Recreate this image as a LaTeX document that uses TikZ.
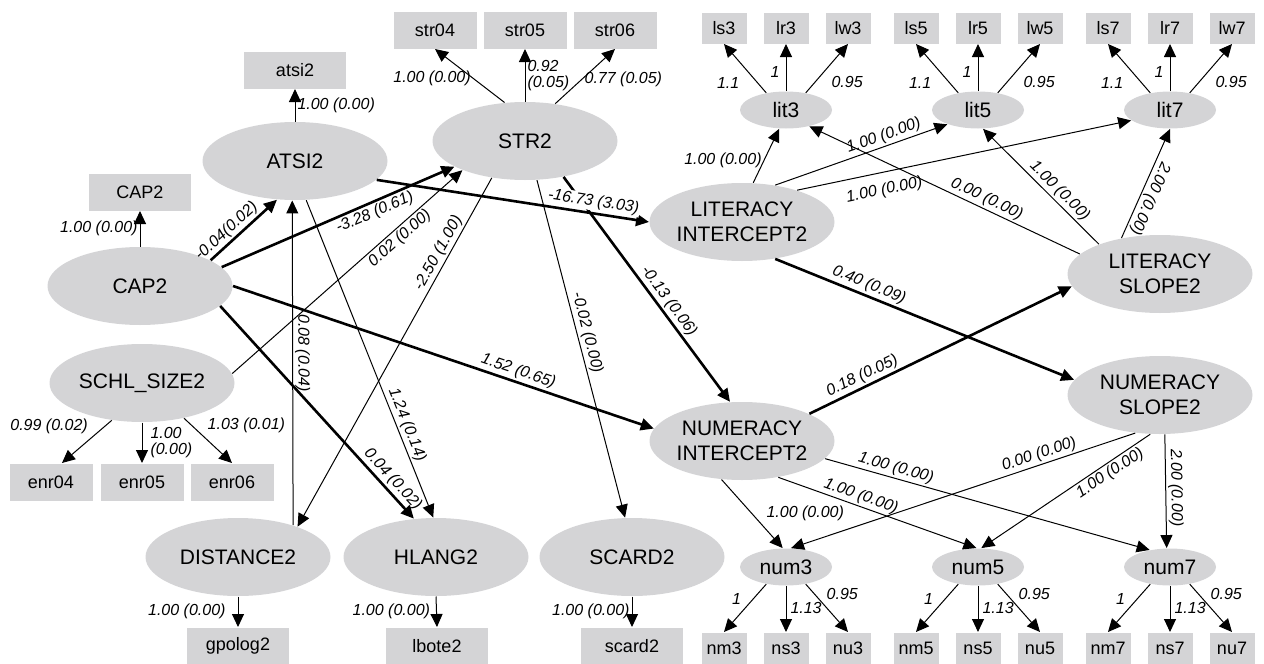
\documentclass[tikz,border=0pt]{standalone}
\usepackage{fontspec}
\setmainfont{Liberation Sans}
\usetikzlibrary{shapes.geometric, arrows.meta}
\definecolor{boxgray}{RGB}{212,212,214}
\tikzstyle{arr}   = [arrows={-Triangle[length=13pt, width=12pt]}]
\tikzstyle{heavy} = [line width=2.6pt]
\tikzstyle{box}   = [rectangle, fill=boxgray, minimum width=102pt, minimum height=37pt, inner sep=0pt, font=\fontsize{18}{20}\selectfont]
\tikzstyle{sbox}  = [box, minimum width=83pt]
\tikzstyle{tbox}  = [box, minimum width=45pt, minimum height=31pt]
\tikzstyle{o}     = [ellipse, fill=boxgray, minimum width=185pt, minimum height=78pt, inner sep=0pt, align=center, font=\fontsize{21}{25}\selectfont]
\tikzstyle{so}    = [o, minimum width=92pt, minimum height=37pt]
\tikzstyle{lbl}   = [font=\itshape\fontsize{16}{16}\selectfont, inner sep=2pt]

\begin{document}
\begin{tikzpicture}[x=1pt, y=-1pt, line width=1pt]
\useasboundingbox (0,0) rectangle (1264,664);

% observed variables
\node [box]  (atsi2)   at (295,70)  {atsi2};
\node [box]  (cap2)    at (140,192) {CAP2};
\node [sbox] (str04)   at (435,30)  {str04};
\node [sbox] (str05)   at (525,30)  {str05};
\node [sbox] (str06)   at (615,30)  {str06};
\node [sbox] (enr04)   at (51,482)  {enr04};
\node [sbox] (enr05)   at (142,482) {enr05};
\node [sbox] (enr06)   at (232,482) {enr06};
\node [box]  (gpolog2) at (238,646) {gpolog2};
\node [box]  (lbote2)  at (437,646) {lbote2};
\node [box]  (scard2)  at (632,646) {scard2};

\node [tbox] (ls3) at (724,28)  {ls3};
\node [tbox] (lr3) at (786,28)  {lr3};
\node [tbox] (lw3) at (848,28)  {lw3};
\node [tbox] (ls5) at (916,28)  {ls5};
\node [tbox] (lr5) at (978,28)  {lr5};
\node [tbox] (lw5) at (1040,28) {lw5};
\node [tbox] (ls7) at (1108,28) {ls7};
\node [tbox] (lr7) at (1170,28) {lr7};
\node [tbox] (lw7) at (1232,28) {lw7};

\node [tbox] (nm3) at (724,648)  {nm3};
\node [tbox] (ns3) at (786,648)  {ns3};
\node [tbox] (nu3) at (848,648)  {nu3};
\node [tbox] (nm5) at (916,648)  {nm5};
\node [tbox] (ns5) at (978,648)  {ns5};
\node [tbox] (nu5) at (1040,648) {nu5};
\node [tbox] (nm7) at (1108,648) {nm7};
\node [tbox] (ns7) at (1170,648) {ns7};
\node [tbox] (nu7) at (1232,648) {nu7};

% latent variables
\node [o] (ATSI)  at (295,161) {ATSI2};
\node [o] (CAP)   at (140,286) {CAP2};
\node [o] (SCHL)  at (142,383) {SCHL\_SIZE2};
\node [o] (DIST)  at (238,557) {DISTANCE2};
\node [o] (HLANG) at (436,557) {HLANG2};
\node [o] (SCARD) at (632,557) {SCARD2};
\node [o] (STR)   at (525,141) {STR2};
\node [o] (LI)    at (742,222) {LITERACY\\INTERCEPT2};
\node [o] (NI)    at (742,441) {NUMERACY\\INTERCEPT2};
\node [o] (LS)    at (1160,274) {LITERACY\\SLOPE2};
\node [o] (NS)    at (1160,395) {NUMERACY\\SLOPE2};

\node [so] (lit3) at (786,110)  {lit3};
\node [so] (lit5) at (978,110)  {lit5};
\node [so] (lit7) at (1170,110) {lit7};
\node [so] (num3) at (786,567)  {num3};
\node [so] (num5) at (978,567)  {num5};
\node [so] (num7) at (1170,567) {num7};

% measurement edges
\path [arr] (ATSI.north)  edge node[lbl, right]                         {1.00 (0.00)}   (atsi2.south);
\path [arr] (CAP.north)   edge node[lbl, left]                          {1.00 (0.00)}   (cap2.south);
\path [arr] (STR.118)     edge node[lbl, left, pos=0.45]                {1.00 (0.00)}   (str04.south);
\path [arr] (STR.north)   edge node[lbl, right, align=left]             {0.92\\(0.05)}  (str05.south);
\path [arr] (STR.51)      edge node[lbl, right, pos=0.45]               {0.77 (0.05)}   (str06.south);
\path [arr] (SCHL.231)    edge node[lbl, left=14pt, pos=0.15]           {0.99 (0.02)}   (enr04.60);
\path [arr] (SCHL.south)  edge node[lbl, right=6pt, align=left]         {1.00\\(0.00)}  (enr05.north);
\path [arr] (SCHL.-40)    edge node[lbl, right=14pt, pos=0.15]          {1.03 (0.01)}   (enr06.north);
\path [arr] (DIST.south)  edge node[lbl, left=10pt]                     {1.00 (0.00)}   (gpolog2.north);
\path [arr] (HLANG.south) edge node[lbl, left=4pt]                      {1.00 (0.00)}   (lbote2.north);
\path [arr] (SCARD.south) edge node[lbl, left]                          {1.00 (0.00)}   (scard2.north);

\path [arr] (lit3.139)   edge node[lbl, left=16pt, pos=0.2]  {1.1}  (ls3.south);
\path [arr] (lit3.north) edge node[lbl, left=4pt, pos=0.4]   {1}    (lr3.south);
\path [arr] (lit3.41)    edge node[lbl, right=14pt, pos=0.22] {0.95} (lw3.south);
\path [arr] (lit5.139)   edge node[lbl, left=16pt, pos=0.2]  {1.1}  (ls5.south);
\path [arr] (lit5.north) edge node[lbl, left=4pt, pos=0.4]   {1}    (lr5.south);
\path [arr] (lit5.41)    edge node[lbl, right=14pt, pos=0.22] {0.95} (lw5.south);
\path [arr] (lit7.139)   edge node[lbl, left=16pt, pos=0.2]  {1.1}  (ls7.south);
\path [arr] (lit7.north) edge node[lbl, left=4pt, pos=0.4]   {1}    (lr7.south);
\path [arr] (lit7.41)    edge node[lbl, right=14pt, pos=0.22] {0.95} (lw7.south);

\path [arr] (num3.-139)  edge node[lbl, left=10pt, pos=0.3]  {1}    (nm3.north);
\path [arr] (num3.south) edge node[lbl, right=2pt, pos=0.47] {1.13} (ns3.north);
\path [arr] (num3.-41)   edge node[lbl, right=10pt, pos=0.2] {0.95} (nu3.north);
\path [arr] (num5.-139)  edge node[lbl, left=10pt, pos=0.3]  {1}    (nm5.north);
\path [arr] (num5.south) edge node[lbl, right=2pt, pos=0.47] {1.13} (ns5.north);
\path [arr] (num5.-41)   edge node[lbl, right=10pt, pos=0.2] {0.95} (nu5.north);
\path [arr] (num7.-139)  edge node[lbl, left=10pt, pos=0.3]  {1}    (nm7.north);
\path [arr] (num7.south) edge node[lbl, right=2pt, pos=0.47] {1.13} (ns7.north);
\path [arr] (num7.-41)   edge node[lbl, right=10pt, pos=0.2] {0.95} (nu7.north);

% structural edges
\path [arr, heavy] (CAP.20)   edge node[lbl, sloped, above, pos=0.35] {-0.04(0.02)}  (ATSI.245);
\path [arr, heavy] (CAP.13)   edge node[lbl, sloped, below, pos=0.64] {-3.28 (0.61)} (STR.200);
\path [arr, heavy] (CAP.east) edge node[lbl, sloped, above, pos=0.67] {1.52 (0.65)}  (NI.172);
\path [arr, heavy] (CAP.-14)  edge node[lbl, sloped, above, pos=0.85] {0.04 (0.02)}  (HLANG.120);
\path [arr]        (SCHL.6)   edge node[lbl, sloped, below, pos=0.7]  {0.02 (0.00)}  (STR.205);
\path [arr]        (DIST.30)  edge node[lbl, sloped, allow upside down, rotate=180, above, pos=0.53] {0.08 (0.04)} (ATSI.266);
\path [arr]        (STR.-132) edge node[lbl, sloped, above, pos=0.23] {-2.50 (1.00)} (DIST.27);
\path [arr]        (ATSI.-74) edge node[lbl, sloped, above, pos=0.72] {1.24 (0.14)}  (HLANG.94);
\path [arr]        (STR.-73)  edge node[lbl, sloped, above, pos=0.46] {-0.02 (0.00)} (SCARD.100);
\path [arr, heavy] (STR.-43)  edge node[lbl, sloped, above, pos=0.58] {-0.13 (0.06)} (NI.107);
\path [arr, heavy] (ATSI.-13) edge node[lbl, sloped, above=1.5pt, pos=0.79, fill=white, inner sep=1pt] {-16.73 (3.03)} (LI.west);

\path [arr]        (LI.74)    edge node[lbl, left, pos=0.42]           {1.00 (0.00)} (lit3.-110);
\path [arr]        (LI.48)    edge node[lbl, sloped, above, pos=0.65]  {1.00 (0.00)} (lit5.205);
\path [arr]        (LI.30)    edge node[lbl, sloped, below=8pt, pos=0.25] {1.00 (0.00)} (lit7.195);
\path [arr]        (LS.166)   edge node[lbl, sloped, above, pos=0.36]  {0.00 (0.00)} (lit3.-35);
\path [arr]        (LS.154)   edge node[lbl, sloped, above, pos=0.4]   {1.00 (0.00)} (lit5.-75);
\path [arr]        (LS.137)   edge node[lbl, sloped, allow upside down, rotate=180, above, pos=0.4] {2.00 (0.00)} (lit7.south);
\path [arr, heavy] (LI.-48)   edge node[lbl, sloped, above, pos=0.3]   {0.40 (0.09)} (NS.170);
\path [arr, heavy] (NI.22)    edge node[lbl, sloped, above, pos=0.22]  {0.18 (0.05)} (LS.188);

\path [arr]        (NI.-118)  edge node[lbl, right=12pt, pos=0.5]      {1.00 (0.00)} (num3.100);
\path [arr]        (NI.-45)   edge node[lbl, sloped, above, pos=0.4]   {1.00 (0.00)} (num5.95);
\path [arr]        (NI.-12)   edge node[lbl, sloped, above, pos=0.21]  {1.00 (0.00)} (num7.140);
\path [arr]        (NS.-123)  edge node[lbl, sloped, above, pos=0.27]  {0.00 (0.00)} (num3.75);
\path [arr]        (NS.-104)  edge node[lbl, sloped, below, pos=0.27]  {1.00 (0.00)} (num5.80);
\path [arr]        (NS.-83)   edge node[lbl, sloped, above, pos=0.47]  {2.00 (0.00)} (num7.100);

\end{tikzpicture}
\end{document}
